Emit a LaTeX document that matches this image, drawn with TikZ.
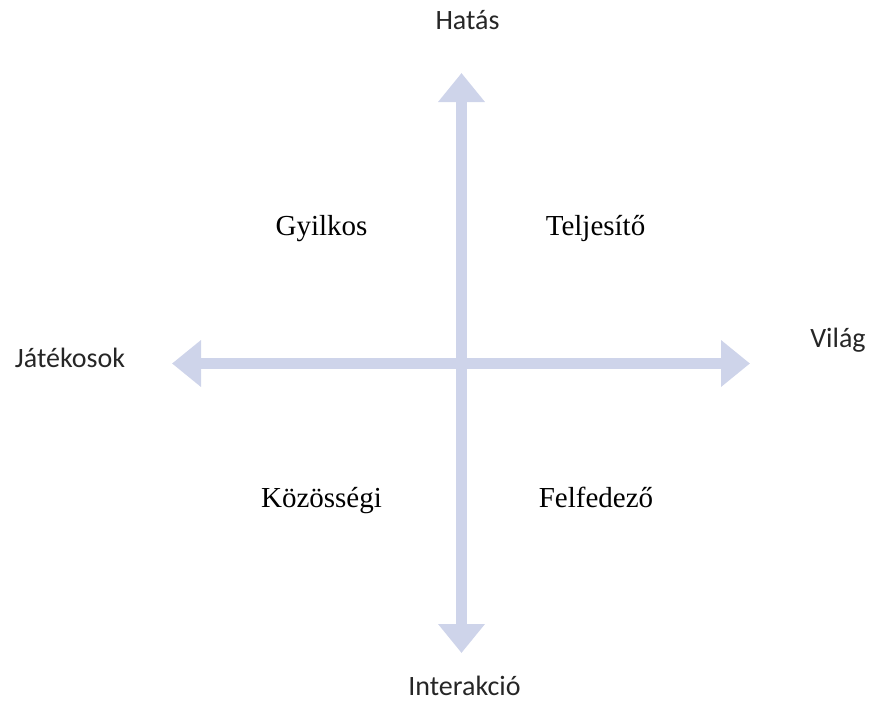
\documentclass[tikz,border=0pt]{standalone}
\usepackage{fontspec}
\setmainfont{Liberation Serif}
\newfontfamily\calibri{Carlito}
\usetikzlibrary{arrows.meta}
\definecolor{axiscol}{RGB}{206,212,234}
\tikzset{
	axis/.style={line width=11pt, color=axiscol, {Triangle[length=29pt,width=45pt]}-{Triangle[length=29pt,width=45pt]}},
	axislabel/.style={inner sep=0pt, anchor=base, text=black!85, font=\calibri\fontsize{28}{34}\selectfont},
	typelabel/.style={inner sep=0pt, anchor=base, font=\fontsize{29}{35}\selectfont}
}
\begin{document}
\begin{tikzpicture}[x=1pt,y=-1pt]
		\useasboundingbox (0,0) rectangle (869,702);
		
		\coordinate (top) at (461.5,73);
		\coordinate (bottom) at (461.5,653);
		\coordinate (left) at (172,363.5);
		\coordinate (right) at (750,363.5);
		
		\draw[axis] (bottom) -- (top);
		\draw[axis] (left) -- (right);
		
		\node[axislabel] (hatas) at (467.5,29) {Hatás};
		\node[axislabel] (interakcio) at (464.5,695) {Interakció};
		\node[axislabel] (jatekosok) at (70,367) {Játékosok};
		\node[axislabel] (vilag) at (838,347) {Világ};
		
		\node[typelabel] (gyilkos) at (321.5,235) {Gyilkos};
		\node[typelabel] (teljesito) at (595.5,235) {Teljesítő};
		\node[typelabel] (kozossegi) at (321.5,507) {Közösségi};
		\node[typelabel] (felfedezo) at (596,507) {Felfedező};
		
		\end{tikzpicture}
\end{document}
